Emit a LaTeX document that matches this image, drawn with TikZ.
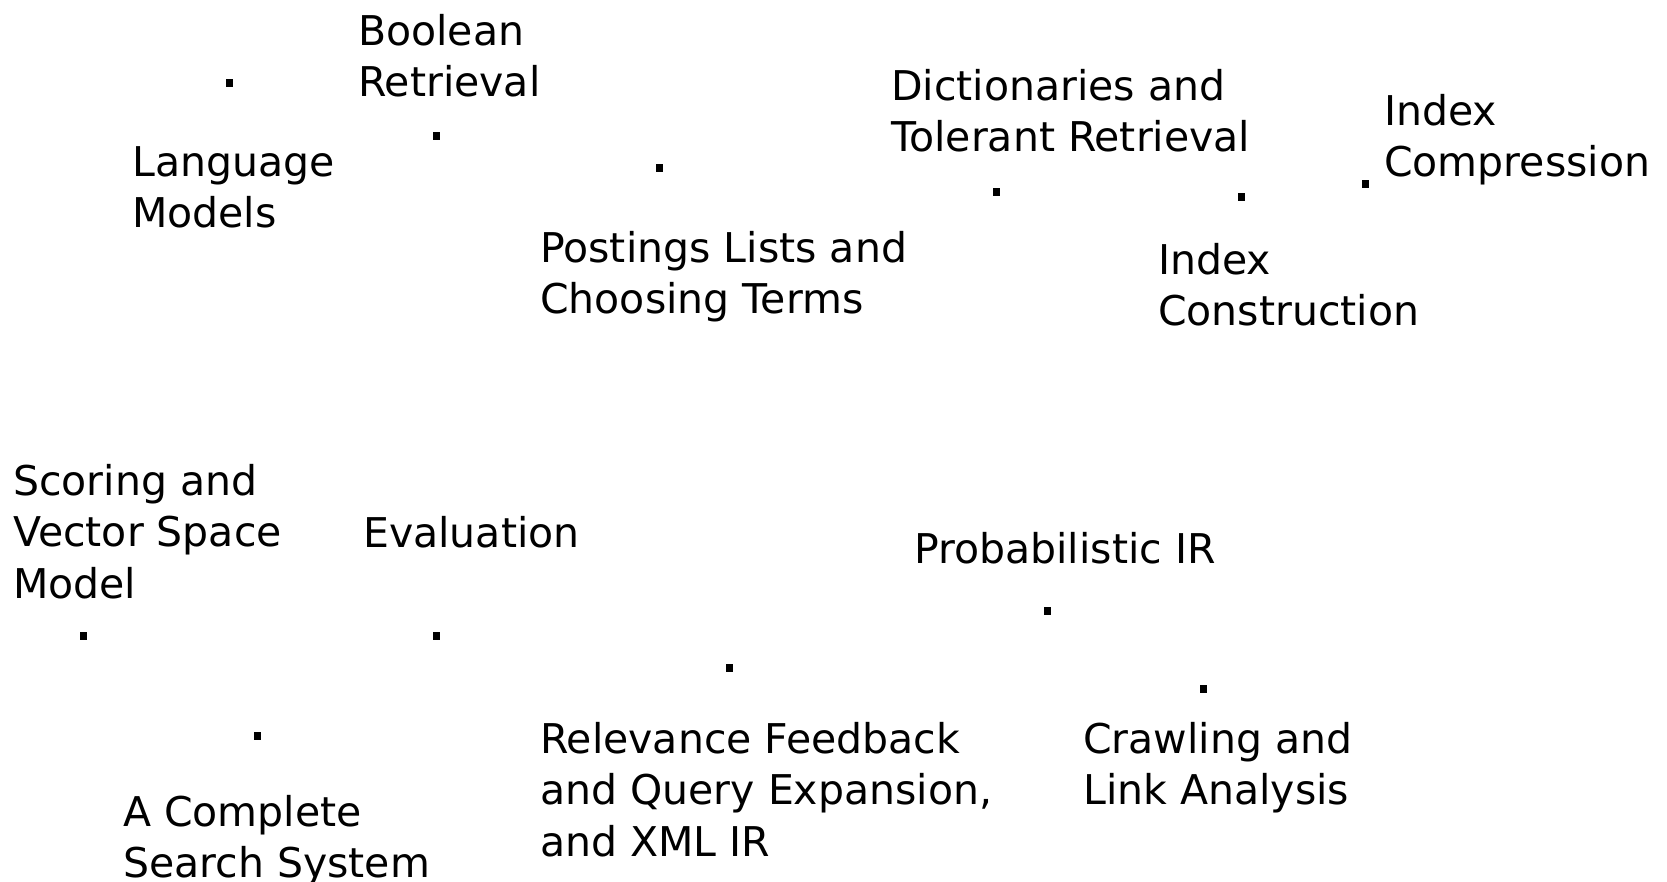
\documentclass[tikz,border=0pt]{standalone}
\usepackage{fontspec}
\setmainfont{DejaVu Sans}
\newcommand{\mylines}[1]{\begin{tabular}[t]{@{}l@{}}#1\end{tabular}}
\begin{document}
\begin{tikzpicture}[x=1pt,y=-1pt,
  lbl/.style={anchor=base west,inner sep=0pt,font=\fontsize{41}{51.6}\selectfont},
  dot/.style={rectangle,fill=black,inner sep=0pt,minimum width=7pt,minimum height=8pt}]
\useasboundingbox (0,0) rectangle (1667,881);
% labels
\node[lbl] (lm) at (132,176) {\mylines{Language\\Models}};
\node[lbl] (br) at (358,45) {\mylines{Boolean\\Retrieval}};
\node[lbl] (pl) at (540,262) {\mylines{Postings Lists and\\Choosing Terms}};
\node[lbl] (dt) at (891,100) {\mylines{Dictionaries and\\Tolerant Retrieval}};
\node[lbl] (ic) at (1384,125) {\mylines{Index\\Compression}};
\node[lbl] (ix) at (1158,274) {\mylines{Index\\Construction}};
\node[lbl] (sv) at (13,495) {\mylines{Scoring and\\Vector Space\\Model}};
\node[lbl] (ev) at (363,547) {Evaluation};
\node[lbl] (pr) at (914,563) {Probabilistic IR};
\node[lbl] (rf) at (540,753) {\mylines{Relevance Feedback\\and Query Expansion,\\and XML IR}};
\node[lbl] (cl) at (1083,753) {\mylines{Crawling and\\Link Analysis}};
\node[lbl] (cs) at (123,826) {\mylines{A Complete\\Search System}};
% dots
\node[dot] (d1) at (229,83) {};
\node[dot] (d2) at (436,136) {};
\node[dot] (d3) at (659,168) {};
\node[dot] (d4) at (996,192) {};
\node[dot] (d5) at (1241,197) {};
\node[dot] (d6) at (1365,184) {};
\node[dot] (d7) at (83,636) {};
\node[dot] (d8) at (436,636) {};
\node[dot] (d9) at (257,736) {};
\node[dot] (d10) at (729,668) {};
\node[dot] (d11) at (1047,611) {};
\node[dot] (d12) at (1203,689) {};
\end{tikzpicture}
\end{document}
